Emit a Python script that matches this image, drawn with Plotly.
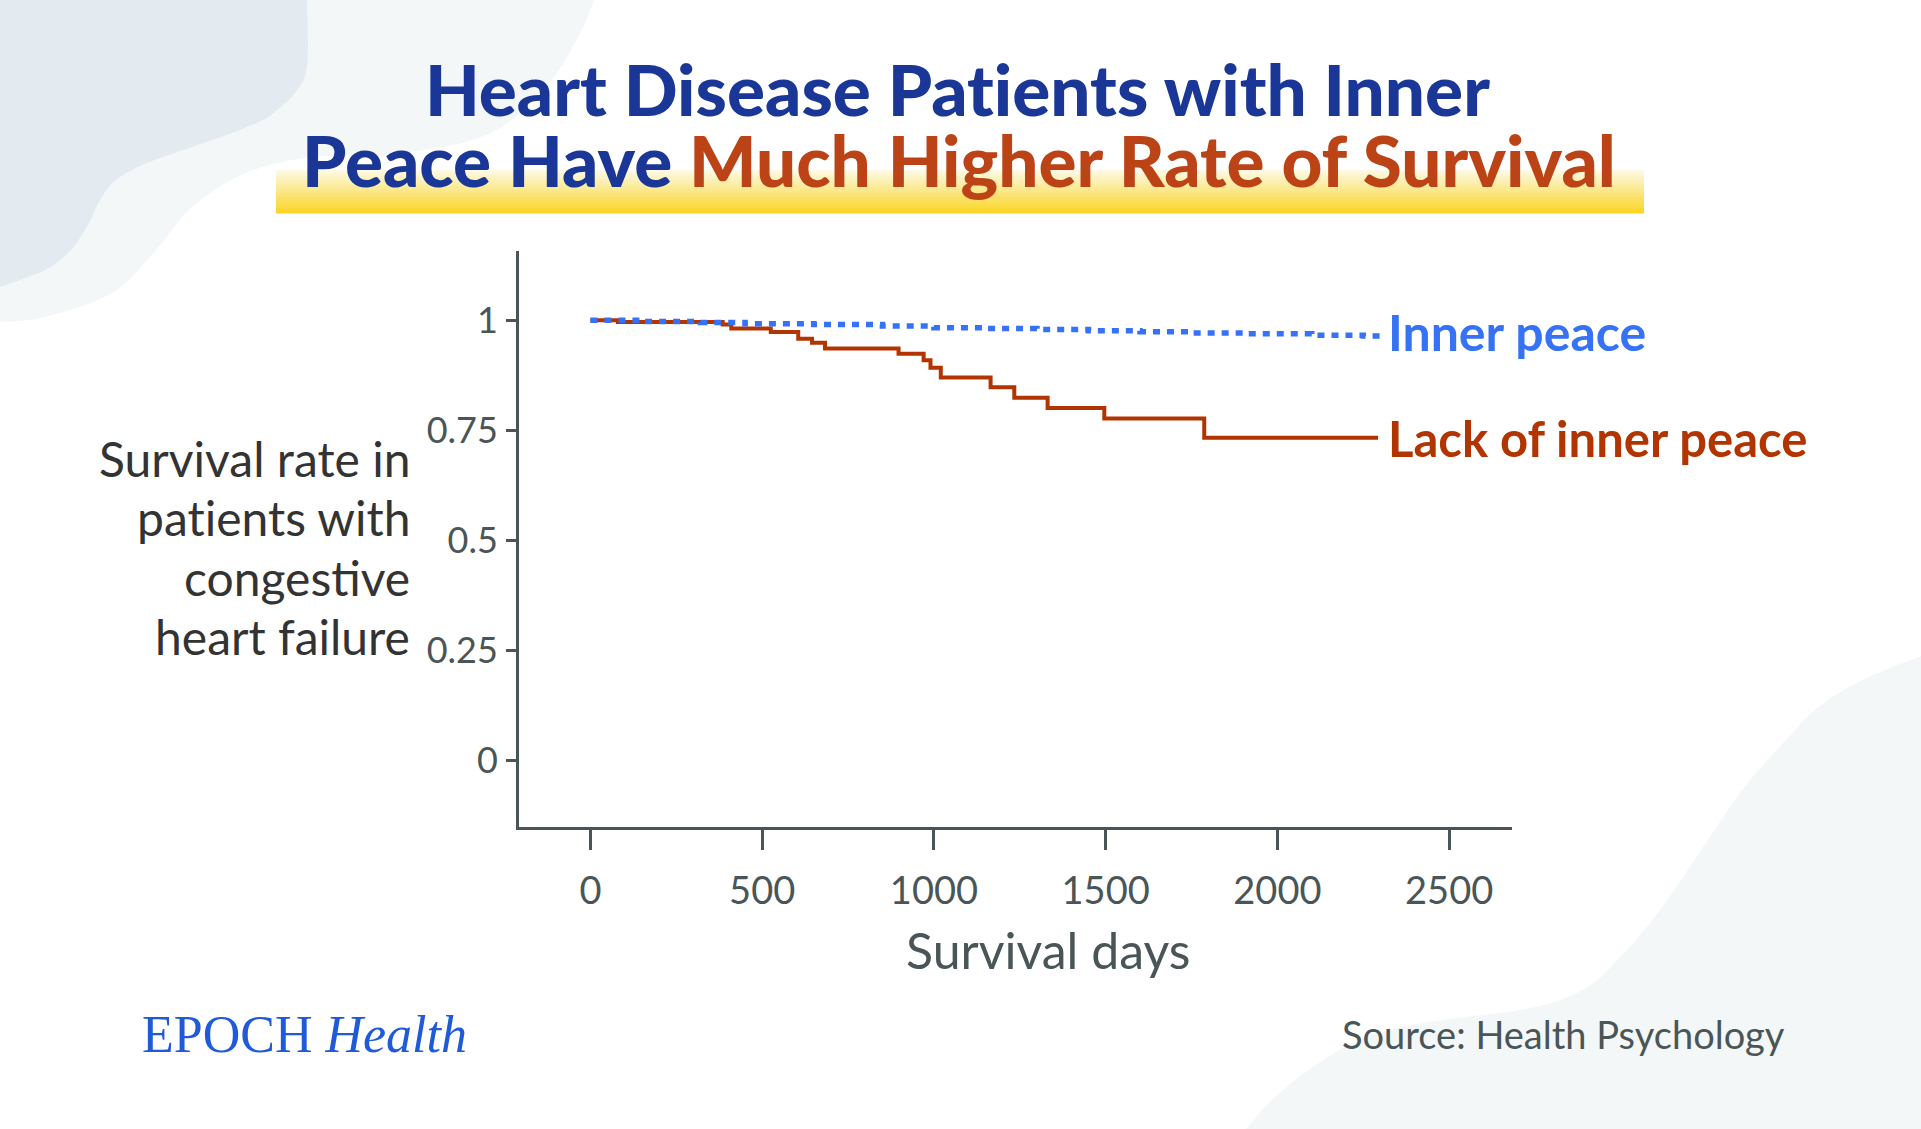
import plotly.graph_objects as go

W, H = 1921, 1129

# ---------------- data ----------------
red_days = [0, 80, 385, 410, 525, 605, 645, 683, 897, 970, 990, 1020, 1165, 1234, 1331, 1496, 1787, 2293]
red_surv = [1.000, 0.996, 0.990, 0.981, 0.973, 0.958, 0.949, 0.936, 0.924, 0.909, 0.892, 0.870,
            0.848, 0.824, 0.801, 0.777, 0.733, 0.733]

blue_days = [0, 150, 320, 450, 650, 850, 1000, 1150, 1300, 1450, 1600, 1750, 1900, 2100, 2250, 2305]
blue_surv = [1.000, 0.997, 0.995, 0.992, 0.990, 0.987, 0.983, 0.981, 0.979, 0.976, 0.974, 0.971,
             0.969, 0.966, 0.964, 0.964]

x_ticks = [0, 500, 1000, 1500, 2000, 2500]
x_tick_labels = ["0", "500", "1000", "1500", "2000", "2500"]
y_ticks = [0, 0.25, 0.5, 0.75, 1]
y_tick_labels = ["0", "0.25", "0.5", "0.75", "1"]

ZW = "\u200c"  # zero-width non-joiner: prevents the "ti" ligature of Lato
series_names = ["Lack of inner peace", "Inner peace"]
title_line1 = "Heart Disease Pat" + ZW + "ients with Inner"
title_line2a = "Peace Have "
title_line2b = "Much Higher Rate of Survival"
y_title_lines = ["Survival rate in", "pat" + ZW + "ients with", "conges" + ZW + "tive", "heart failure"]
x_title = "Survival days"
source_text = "Source: Health Psychology"

# ---------------- colours ----------------
RED = "#b23400"
BLUE = "#3672f5"
AXIS = "#4a5557"
TITLE_BLUE = "#1a3797"
TITLE_ORANGE = "#bb4316"


def px(x, y):
    return x / W, 1 - y / H


def smooth_path(pts, closing):
    P = [px(*p) for p in pts]
    n = len(P)
    d = "M %.5f,%.5f" % P[0]
    for i in range(n - 1):
        p0 = P[max(i - 1, 0)]
        p1 = P[i]
        p2 = P[i + 1]
        p3 = P[min(i + 2, n - 1)]
        c1 = (p1[0] + (p2[0] - p0[0]) / 6, p1[1] + (p2[1] - p0[1]) / 6)
        c2 = (p2[0] - (p3[0] - p1[0]) / 6, p2[1] - (p3[1] - p1[1]) / 6)
        d += " C %.5f,%.5f %.5f,%.5f %.5f,%.5f" % (c1 + c2 + p2)
    for c in closing:
        d += " L %.5f,%.5f" % px(*c)
    return d + " Z"


shapes = []
# background blobs
light_tl = [(594, 0), (580, 33), (549, 83), (491, 133), (402, 153), (312, 157), (246, 173),
            (192, 207), (156, 250), (112, 293), (45, 317), (0, 322)]
dark_tl = [(307, 0), (307, 67), (295, 93), (277, 110), (263, 120), (232, 133), (192, 147),
           (147, 163), (116, 180), (100, 200), (89, 223), (71, 250), (45, 270), (0, 287)]
light_br = [(1921, 656), (1867, 678), (1821, 705), (1784, 742), (1743, 789), (1697, 856),
            (1660, 910), (1623, 954), (1586, 988), (1531, 1008), (1430, 1022), (1361, 1039),
            (1306, 1072), (1269, 1103), (1246, 1129)]
for pts, closing, col in [(light_tl, [(0, 0)], "#f4f7f8"),
                          (dark_tl, [(0, 0)], "#e3ebf0"),
                          (light_br, [(1921, 1129)], "#f4f7f8")]:
    shapes.append(dict(type="path", xref="paper", yref="paper", path=smooth_path(pts, closing),
                       fillcolor=col, line=dict(width=0), layer="below"))

# yellow gradient bar under title line 2
bar_x0, bar_x1, bar_y0, bar_y1 = 276, 1644, 170, 213
nstrip = 22
top_c = (253, 249, 228)
bot_c = (249, 213, 38)
for i in range(nstrip):
    t = i / (nstrip - 1)
    c = tuple(int(round(top_c[k] + (bot_c[k] - top_c[k]) * t)) for k in range(3))
    ya = bar_y0 + (bar_y1 - bar_y0) * i / nstrip
    yb = bar_y0 + (bar_y1 - bar_y0) * (i + 1) / nstrip + 0.6
    x0p, y0p = px(bar_x0, ya)
    x1p, y1p = px(bar_x1, yb)
    shapes.append(dict(type="rect", xref="paper", yref="paper", x0=x0p, x1=x1p, y0=y1p, y1=y0p,
                       fillcolor="rgb(%d,%d,%d)" % c, line=dict(width=0), layer="below"))

fig = go.Figure()
fig.add_trace(go.Scatter(x=red_days, y=red_surv, mode="lines", name=series_names[0],
                         line=dict(color=RED, width=4, shape="hv"), hoverinfo="skip"))
fig.add_trace(go.Scatter(x=blue_days, y=blue_surv, mode="lines", name=series_names[1],
                         line=dict(color=BLUE, width=5.5, shape="hv", dash="7px,7px"),
                         hoverinfo="skip"))

annotations = []
# line-end labels
annotations.append(dict(x=blue_days[-1], y=blue_surv[-1], xref="x", yref="y", text=series_names[1],
                        showarrow=False, xanchor="left", yanchor="middle", xshift=4, yshift=4,
                        font=dict(family="Lato", size=50, color=BLUE, weight=700)))
annotations.append(dict(x=red_days[-1], y=red_surv[-1], xref="x", yref="y", text=series_names[0],
                        showarrow=False, xanchor="left", yanchor="middle", xshift=8, yshift=0,
                        font=dict(family="Lato", size=49, color=RED, weight=700)))

# title
tx, ty = px(957, 89)
annotations.append(dict(x=tx, y=ty, xref="paper", yref="paper", text=title_line1, showarrow=False,
                        xanchor="center", yanchor="middle",
                        font=dict(family="Lato", size=71, color=TITLE_BLUE, weight=900)))
tx, ty = px(959, 160)
annotations.append(dict(x=tx, y=ty, xref="paper", yref="paper",
                        text=title_line2a + "<span style='color:%s'>%s</span>" % (TITLE_ORANGE, title_line2b),
                        showarrow=False, xanchor="center", yanchor="middle",
                        font=dict(family="Lato", size=71, color=TITLE_BLUE, weight=900)))

# y axis title lines (right aligned)
for i, line in enumerate(y_title_lines):
    ax, ay = px(412, 458 + i * 59.5)
    annotations.append(dict(x=ax, y=ay, xref="paper", yref="paper", text=line, showarrow=False,
                            xanchor="right", yanchor="middle",
                            font=dict(family="Lato", size=48, color="#333333")))

# x axis title
ax, ay = px(1048, 950)
annotations.append(dict(x=ax, y=ay, xref="paper", yref="paper", text=x_title, showarrow=False,
                        xanchor="center", yanchor="middle",
                        font=dict(family="Lato", size=50, color=AXIS)))

# footer
ax, ay = px(140, 1034)
annotations.append(dict(x=ax, y=ay, xref="paper", yref="paper",
                        text="EPOCH <i>Health</i>", showarrow=False, xanchor="left", yanchor="middle",
                        font=dict(family="Liberation Serif", size=52, color="#1f5ad8")))
ax, ay = px(1787, 1034)
annotations.append(dict(x=ax, y=ay, xref="paper", yref="paper", text=source_text, showarrow=False,
                        xanchor="right", yanchor="middle",
                        font=dict(family="Lato", size=38, color=AXIS)))

fig.update_layout(
    width=W, height=H,
    margin=dict(l=0, r=0, t=0, b=0),
    paper_bgcolor="white", plot_bgcolor="rgba(0,0,0,0)",
    showlegend=False,
    shapes=shapes,
    annotations=annotations,
    xaxis=dict(domain=[519 / W, 1512 / W], range=[-208, 2683],
               tickmode="array", tickvals=x_ticks, ticktext=x_tick_labels,
               showgrid=False, zeroline=False, showline=True, linecolor=AXIS, linewidth=3,
               ticks="outside", ticklen=20, tickwidth=3, tickcolor=AXIS,
               ticklabelstandoff=8,
               tickfont=dict(family="Lato", size=38, color=AXIS), fixedrange=True),
    yaxis=dict(domain=[(H - 827) / H, (H - 251) / H], range=[-0.15, 1.157],
               tickmode="array", tickvals=y_ticks, ticktext=y_tick_labels,
               showgrid=False, zeroline=False, showline=True, linecolor=AXIS, linewidth=3,
               ticks="outside", ticklen=10, tickwidth=3, tickcolor=AXIS,
               ticklabelstandoff=1,
               tickfont=dict(family="Lato", size=36, color=AXIS), fixedrange=True),
)

fig.write_html("out.html", config={"displayModeBar": False},
               post_script="document.body.style.margin='0px';document.body.style.overflow='hidden';")
